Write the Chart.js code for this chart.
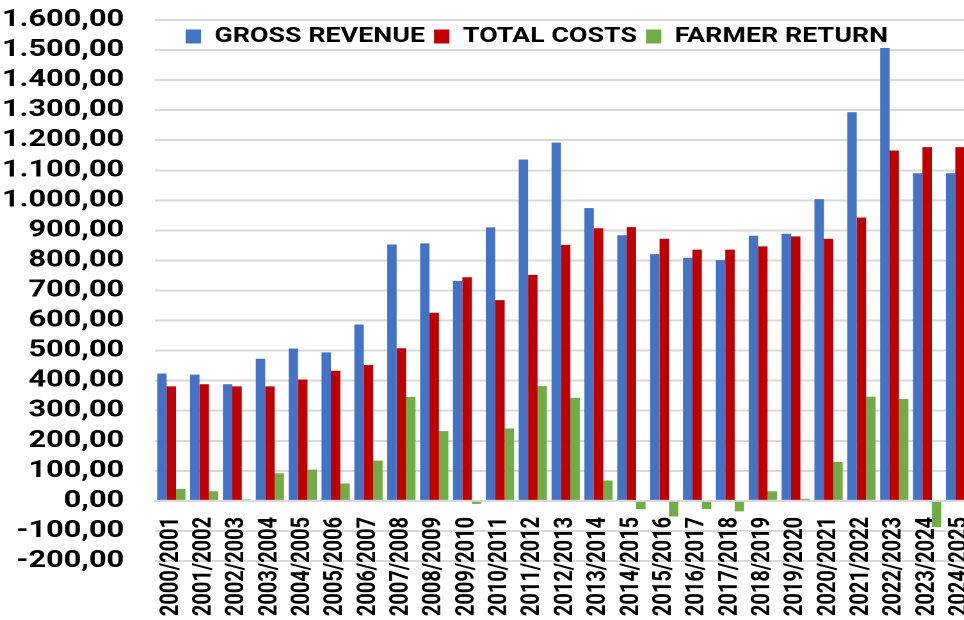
<!DOCTYPE html>
<html>
<head>
<meta charset="utf-8">
<script src="https://cdn.jsdelivr.net/npm/chart.js@4.4.1/dist/chart.umd.min.js"></script>
<style>
  html, body { margin: 0; padding: 0; width: 964px; height: 620px; overflow: hidden; background: #fff; }
  #wrap { width: 782px; height: 620px; transform: scaleX(1.28); transform-origin: 0 0; }
</style>
</head>
<body>
<div id="wrap"><canvas id="chart" width="782" height="620"></canvas></div>
<script>
const seasons = [
  '2000/2001', '2001/2002', '2002/2003', '2003/2004', '2004/2005', '2005/2006', '2006/2007',
  '2007/2008', '2008/2009', '2009/2010', '2010/2011', '2011/2012', '2012/2013', '2013/2014',
  '2014/2015', '2015/2016', '2016/2017', '2017/2018', '2018/2019', '2019/2020', '2020/2021',
  '2021/2022', '2022/2023', '2023/2024', '2024/2025'
];
const grossRevenue = [424, 420, 388, 473, 507, 494, 587, 853, 857, 732, 910, 1136, 1192, 974, 884, 821, 809, 801, 882, 889, 1004, 1293, 1507, 1090, 1090];
const totalCosts = [381, 388, 381, 381, 404, 433, 452, 508, 626, 744, 668, 752, 852, 907, 911, 872, 836, 836, 847, 880, 872, 943, 1166, 1177, 1177];
const farmerReturn = [40, 32, 5, 92, 104, 58, 134, 346, 232, -10, 241, 382, 343, 68, -28, -52, -27, -35, 32, 7, 130, 347, 339, -87, -87];
const yMin = -200;
const yMax = 1600;
const yStep = 100;

Chart.defaults.font.family = 'Roboto';
Chart.defaults.font.weight = 'bold';
Chart.defaults.color = '#000';

const fmt = (v) => v.toLocaleString('de-DE', { minimumFractionDigits: 2, maximumFractionDigits: 2 });

// legend sits inside the plot in the original: keep it from taking space, then move it there
const legendInPlot = {
  id: 'legendInPlot',
  beforeLayout(chart) {
    const lg = chart.legend;
    if (lg && !lg._noSpace) {
      const fit = lg.fit.bind(lg);
      lg.fit = function () { fit(); this.height = 0; };
      lg._noSpace = true;
    }
  },
  afterLayout(chart) {
    const lg = chart.legend;
    lg.left = chart.chartArea.left + 17;
    lg.right = chart.width;
    lg.width = lg.right - lg.left;
    lg.top = chart.chartArea.top - 1;
    lg.height = 44;
    lg.bottom = lg.top + lg.height;
  }
};

new Chart(document.getElementById('chart'), {
  type: 'bar',
  data: {
    labels: seasons,
    datasets: [
      { label: 'GROSS REVENUE', data: grossRevenue, backgroundColor: '#4472C4' },
      { label: 'TOTAL COSTS', data: totalCosts, backgroundColor: '#C00000' },
      { label: 'FARMER RETURN', data: farmerReturn, backgroundColor: '#70AD47' }
    ]
  },
  options: {
    responsive: false,
    devicePixelRatio: 2,
    animation: false,
    categoryPercentage: 0.86,
    barPercentage: 1.0,
    layout: { padding: { top: 20, bottom: 59, left: 0, right: 0 } },
    plugins: {
      legend: {
        position: 'top',
        align: 'start',
        labels: {
          boxWidth: 12,
          boxHeight: 14,
          padding: 7,
          font: { size: 21, weight: 'bold' }
        }
      },
      tooltip: { enabled: false }
    },
    scales: {
      x: {
        position: { y: 0 },
        grid: { display: false },
        border: { color: '#d9d9d9', width: 2 },
        ticks: {
          minRotation: 90,
          maxRotation: 90,
          autoSkip: false,
          padding: 8,
          font: { size: 20, weight: 'bold' }
        }
      },
      y: {
        min: yMin,
        max: yMax,
        afterFit: (scale) => { scale.width = 121; },
        grid: { color: '#d9d9d9', lineWidth: 2, drawTicks: true, tickLength: 24, tickColor: 'rgba(0,0,0,0)' },
        border: { display: false },
        ticks: {
          stepSize: yStep,
          autoSkip: false,
          padding: 0,
          font: { size: 24, weight: 'bold' },
          callback: (v) => fmt(v)
        }
      }
    }
  },
  plugins: [legendInPlot]
});
</script>
</body>
</html>
